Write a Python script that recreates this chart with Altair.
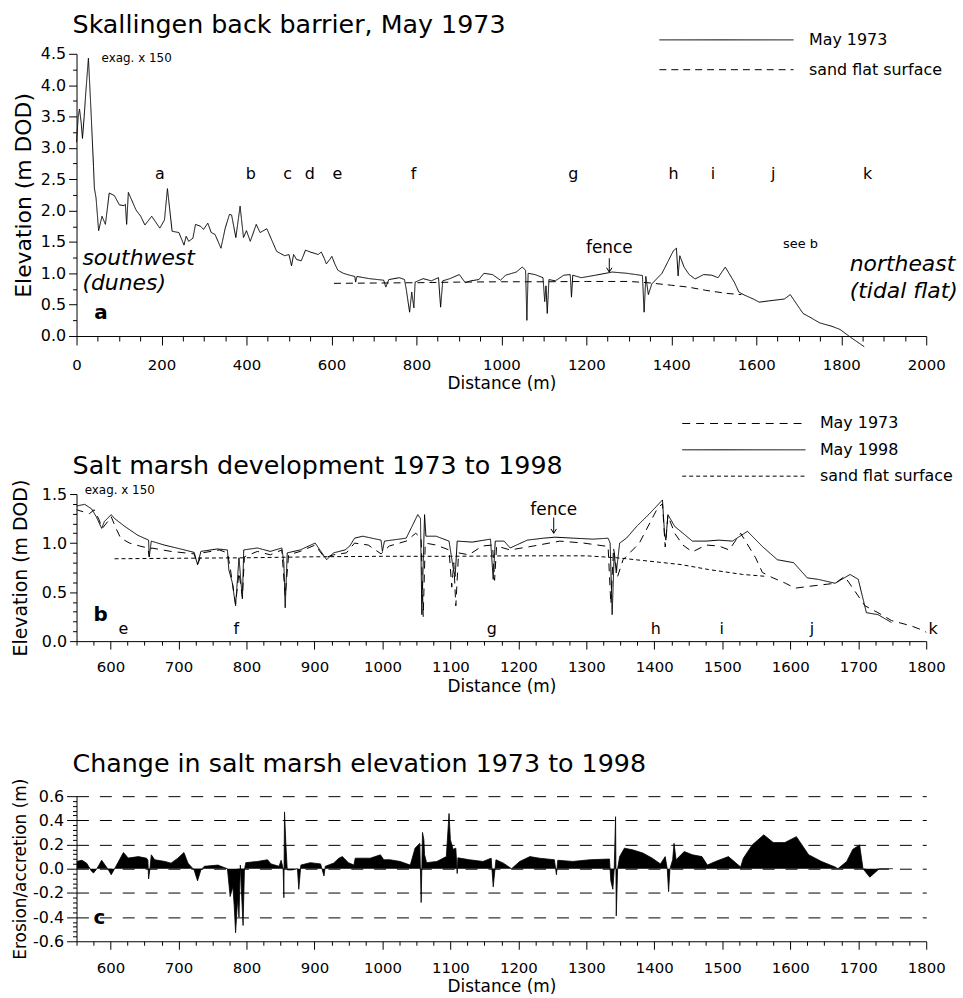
import altair as alt
import pandas as pd

F = "DejaVu Sans"

# ---------------- data ----------------
# May 1973 profile (distance m, elevation m DOD)
dist_1973 = [0, 4, 7, 11, 14, 18, 22, 28, 34, 40, 42, 46, 52, 60, 68, 77, 89, 101, 112, 115,
             118, 122, 140, 151, 161, 177, 196, 207, 214, 225, 241, 253, 258, 264, 274, 280, 292, 299, 309, 317,
             326, 340, 350, 360, 365, 375, 385, 393, 400, 409, 423, 432, 448, 471, 490, 500, 506, 511, 518, 529,
             539, 550, 569, 576, 583, 588, 596, 601, 608, 615, 628, 643, 655, 657, 660, 689, 723, 728, 735, 760,
             772, 776, 784, 789, 794, 797, 816, 835, 852, 857, 862, 879, 901, 915, 928, 947, 959, 979, 998, 1010,
             1035, 1049, 1057, 1060, 1063, 1079, 1098, 1102, 1105, 1108, 1112, 1127, 1147, 1162, 1165, 1168, 1188, 1222, 1261, 1296,
             1332, 1336, 1340, 1346, 1354, 1378, 1405, 1412, 1416, 1420, 1430, 1442, 1456, 1476, 1495, 1510, 1520, 1527, 1549, 1559,
             1573, 1593, 1607, 1629, 1666, 1680, 1700, 1710, 1729, 1749, 1778, 1797, 1822, 1854]
elev_1973 = [3.09, 3.5, 3.62, 3.4, 3.15, 3.5, 3.9, 4.43, 3.6, 2.7, 2.36, 2.2, 1.68, 1.91, 1.78, 2.28, 2.24, 2.09, 2.08, 2.1,
             1.78, 2.29, 2.01, 1.91, 1.77, 1.91, 1.72, 1.85, 2.35, 1.67, 1.65, 1.45, 1.59, 1.51, 1.56, 1.78, 1.75, 1.70, 1.80, 1.65,
             1.62, 1.40, 1.72, 1.94, 1.93, 1.57, 2.07, 1.57, 1.68, 1.51, 1.78, 1.65, 1.71, 1.35, 1.28, 1.30, 1.12, 1.30, 1.22, 1.20,
             1.37, 1.34, 1.30, 1.34, 1.24, 1.15, 1.22, 1.27, 1.15, 1.05, 1.00, 0.97, 0.95, 0.86, 0.95, 0.915, 0.89, 0.78, 0.90, 0.93,
             0.90, 0.75, 0.38, 0.70, 0.45, 0.86, 0.915, 0.88, 0.93, 0.46, 0.88, 0.915, 0.98, 0.85, 0.88, 0.90, 1.00, 0.98, 0.89, 0.97,
             1.02, 1.10, 1.05, 0.25, 1.00, 0.98, 0.93, 0.55, 0.80, 0.36, 0.90, 0.88, 0.97, 0.98, 0.62, 0.97, 0.93, 0.97, 1.02, 1.00,
             0.965, 0.38, 0.95, 0.66, 0.83, 1.00, 1.36, 1.40, 0.96, 1.28, 1.10, 0.98, 0.91, 0.98, 0.97, 0.93, 1.03, 1.10, 0.85, 0.70,
             0.65, 0.59, 0.54, 0.56, 0.59, 0.66, 0.46, 0.36, 0.29, 0.21, 0.155, 0.105, -0.02, -0.17]

# May 1998 profile
dist_1998 = [550, 562, 572, 579, 587, 591, 601, 606, 621, 640, 656, 657, 660, 679, 703, 723, 728, 733, 757, 772,
             774, 779, 784, 789, 794, 796, 816, 835, 852, 855, 857, 860, 879, 901, 913, 918, 928, 945, 952, 959,
             971, 998, 1000, 1003, 1035, 1052, 1056, 1058, 1062, 1064, 1079, 1098, 1104, 1107, 1110, 1132, 1159, 1163, 1166, 1179,
             1188, 1213, 1237, 1254, 1281, 1310, 1332, 1335, 1338, 1341, 1344, 1349, 1359, 1374, 1393, 1412, 1415, 1417, 1420, 1430,
             1456, 1476, 1495, 1515, 1537, 1559, 1581, 1605, 1625, 1641, 1666, 1688, 1700, 1712, 1729, 1749]
elev_1998 = [1.378, 1.395, 1.35, 1.27, 1.15, 1.22, 1.29, 1.25, 1.17, 1.08, 1.03, 0.86, 1.02, 0.98, 0.94, 0.905, 0.78, 0.915, 0.94, 0.93,
             0.73, 0.60, 0.36, 0.85, 0.43, 0.93, 0.95, 0.915, 0.95, 0.80, 0.34, 0.90, 0.93, 1.00, 0.88, 0.83, 0.90, 0.93, 0.97, 1.05,
             1.07, 1.03, 0.915, 1.02, 1.05, 1.29, 1.25, 0.27, 1.29, 1.07, 1.07, 1.02, 0.75, 0.66, 1.02, 1.01, 1.04, 0.63, 1.02, 1.02,
             0.95, 1.03, 1.05, 1.06, 1.05, 1.04, 1.05, 1.00, 0.27, 0.90, 0.695, 1.00, 1.05, 1.17, 1.30, 1.44, 1.10, 1.03, 1.29, 1.17,
             1.02, 1.02, 1.03, 1.02, 1.12, 0.965, 0.83, 0.80, 0.645, 0.63, 0.59, 0.68, 0.63, 0.29, 0.27, 0.19]

# sand flat surface
dist_sand = [606, 700, 800, 900, 1000, 1100, 1200, 1300, 1345, 1400, 1440, 1480, 1530, 1565]
elev_sand = [0.84, 0.845, 0.85, 0.86, 0.865, 0.865, 0.87, 0.87, 0.85, 0.81, 0.78, 0.73, 0.68, 0.66]

# change in elevation 1973-1998 (m)
dist_change = [550, 558, 565, 572, 575, 580, 587, 592, 597, 601, 605, 609, 619, 626, 641, 653, 655, 656, 658, 660,
               665, 680, 689, 699, 708, 714, 723, 728, 733, 738, 758, 767, 772, 776, 780, 782, 784, 787, 789, 791,
               793, 795, 797, 799, 816, 831, 836, 848, 851, 854, 855, 856, 858, 860, 867, 875, 877, 880, 894, 909,
               914, 916, 928, 936, 941, 950, 958, 960, 982, 997, 1002, 1011, 1026, 1041, 1048, 1055, 1057, 1059, 1061, 1062,
               1065, 1080, 1094, 1098, 1100, 1104, 1108, 1110, 1111, 1128, 1148, 1160, 1163, 1167, 1178, 1190, 1202, 1217, 1231, 1253,
               1256, 1258, 1280, 1305, 1334, 1336, 1339, 1341, 1343, 1344, 1346, 1349, 1356, 1368, 1383, 1397, 1409, 1416, 1419, 1421,
               1423, 1427, 1429, 1432, 1444, 1456, 1470, 1478, 1490, 1509, 1527, 1531, 1544, 1561, 1575, 1592, 1609, 1627, 1646, 1666,
               1670, 1683, 1692, 1702, 1707, 1717, 1731, 1751]
change = [0.06, 0.07, 0.045, -0.02, -0.035, 0.0, 0.07, 0.03, -0.01, -0.05, -0.01, 0.03, 0.134, 0.088, 0.10, 0.087, 0.07, -0.085, 0.0, 0.115,
          0.074, 0.06, 0.046, 0.087, 0.134, 0.046, -0.01, -0.10, -0.01, 0.02, 0.03, 0.01, 0.0, -0.23, -0.15, -0.31, -0.53, -0.25, -0.40, 0.03,
          -0.23, -0.47, -0.01, 0.05, 0.06, 0.074, 0.04, 0.02, 0.07, 0.0, -0.24, 0.47, 0.20, -0.01, -0.01, 0.0, -0.17, 0.03, 0.05, 0.04,
          -0.06, 0.02, 0.046, 0.087, 0.10, 0.05, 0.03, 0.087, 0.087, 0.115, 0.074, 0.074, 0.06, 0.03, 0.17, 0.21, -0.28, 0.30, 0.24, 0.115,
          0.05, 0.06, 0.10, 0.457, 0.24, 0.16, 0.17, -0.04, 0.09, 0.074, 0.06, 0.087, -0.15, 0.074, 0.046, 0.0, 0.06, 0.10, 0.087, 0.074,
          -0.05, 0.07, 0.06, 0.074, 0.08, -0.10, -0.17, 0.0, 0.43, -0.39, 0.0, 0.10, 0.17, 0.156, 0.13, 0.087, 0.04, 0.10, 0.0, -0.19,
          0.0, 0.074, 0.21, 0.074, 0.142, 0.115, 0.10, 0.03, 0.06, 0.10, 0.014, 0.087, 0.197, 0.28, 0.216, 0.216, 0.265, 0.115, 0.06, 0.014,
          0.0, 0.06, 0.16, 0.197, 0.0, -0.07, 0.0, 0.0]

# site letters
letters_a = ["a", "b", "c", "d", "e", "f", "g", "h", "i", "j", "k"]
letters_a_dist = [196, 410, 497, 549, 614, 793, 1169, 1405, 1498, 1640, 1862]
letters_b = ["e", "f", "g", "h", "i", "j", "k"]
letters_b_dist = [619, 785, 1161, 1402, 1499, 1632, 1810]

# ---------------- helpers ----------------
def ticks(lo, hi, step):
    n = int(round((hi - lo) / step))
    return [round(lo + i * step, 4) for i in range(n + 1)]


def axis(orient, values, major, fmt, title, big, small, lsize, tsize, lpad, tpad, **kw):
    kw.setdefault("grid", False)
    return alt.Axis(
        orient=orient, values=values, format=fmt, title=title,
        labelExpr=f"({major}) ? replace(datum.label, '\u2212', '-') : ''",
        tickSize={"condition": {"test": major, "value": big}, "value": small},
        labelFont=F, labelFontSize=lsize, labelColor="black", labelPadding=lpad,
        labelOverlap=False, labelFlush=False,
        titleFont=F, titleFontSize=tsize, titleFontWeight="normal", titleColor="black",
        titlePadding=tpad, domainColor="black", tickColor="black", domainWidth=1,
        tickWidth=1, **kw)


def legend(x, y, length, rowpad, loff):
    return alt.Legend(
        title=None, orient="none", legendX=x, legendY=y, symbolType="stroke",
        symbolSize=length * length, symbolStrokeWidth=1, symbolStrokeColor="black",
        clipHeight=20, rowPadding=rowpad, labelOffset=loff, labelFont=F,
        labelFontSize=16, labelColor="black", padding=0, symbolOffset=0)


def texts(df, X, Y, size, align="left", style="normal", weight="normal"):
    return alt.Chart(df).mark_text(
        font=F, fontSize=size, align=align, baseline="middle", fontStyle=style,
        fontWeight=weight, color="black").encode(x=X, y=Y, text="t:N")


def title(txt, offset, line_height=None):
    extra = {"lineHeight": line_height} if line_height else {}
    return alt.TitleParams(txt, anchor="start", frame="group", font=F, fontSize=25.5,
                           fontWeight="normal", color="black", dx=-4, offset=offset, **extra)

# ---------------- panel a ----------------
major_a_x = "datum.value % 200 === 0"
major_half = "abs(datum.value * 2 - round(datum.value * 2)) < 0.001"
Xa = alt.X("d:Q", scale=alt.Scale(domain=[0, 2000], nice=False, zero=False),
           axis=axis("bottom", ticks(0, 2000, 50), major_a_x, "d", "Distance (m)", 9, 5, 15, 17, 13, 3))
Ya = alt.Y("e:Q", scale=alt.Scale(domain=[0, 4.5], nice=False, zero=False),
           axis=axis("left", ticks(0, 4.5, 0.25), major_half, ".1f", "Elevation (m DOD)", 8, 4, 16, 22, 3, 5))

lines_a = pd.concat([
    pd.DataFrame({"d": dist_1973, "e": elev_1973, "s": "May 1973", "i": range(len(dist_1973))}),
    pd.DataFrame({"d": dist_sand, "e": elev_sand, "s": "sand flat surface", "i": range(len(dist_sand))}),
])
a_lines = alt.Chart(lines_a).mark_line(color="black", strokeWidth=1).encode(
    x=Xa, y=Ya, order="i:Q", detail="s:N",
    strokeDash=alt.StrokeDash("s:N", scale=alt.Scale(domain=["May 1973", "sand flat surface"],
                                                     range=[[1, 0], [7, 5]]),
                              legend=legend(586, -24, 135, 10, 15)))
a_letters = texts(pd.DataFrame({"d": letters_a_dist, "e": [2.59] * len(letters_a), "t": letters_a}),
                  Xa, Ya, 16, align="center")
a_small = texts(pd.DataFrame({"d": [59], "e": [4.43], "t": ["exag. x 150"]}), Xa, Ya, 12)
a_seeb = texts(pd.DataFrame({"d": [1663], "e": [1.47], "t": ["see b"]}), Xa, Ya, 13)
a_ital = texts(pd.DataFrame({"d": [14, 14, 1820, 1820], "e": [1.25, 0.84, 1.15, 0.72],
                             "t": ["southwest", "(dunes)", "northeast", "(tidal flat)"]}),
               Xa, Ya, 22, style="italic")
a_bold = texts(pd.DataFrame({"d": [42], "e": [0.36], "t": ["a"]}), Xa, Ya, 20, weight="bold")
a_fence = texts(pd.DataFrame({"d": [1254], "e": [1.41], "t": ["fence"]}), Xa, Ya, 17, align="center")
a_arrow = alt.Chart(pd.DataFrame({"d": [1254], "e": [1.24], "e2": [1.02]})).mark_rule(
    color="black", strokeWidth=1).encode(x=Xa, y=Ya, y2="e2:Q")
a_head = alt.Chart(pd.DataFrame({"d": [1254], "e": [1.02]})).mark_point(
    shape="M-1,-1.6L0,0L1,-1.6", filled=False, color="black", strokeWidth=1, size=30, opacity=1).encode(x=Xa, y=Ya)

panel_a = alt.layer(a_lines, a_letters, a_small, a_seeb, a_ital, a_bold, a_fence, a_arrow, a_head).properties(
    width=855, height=284, title=title("Skallingen back barrier, May 1973", -9))

# ---------------- panel b ----------------
major_100 = "datum.value % 100 === 0"
Xb = alt.X("d:Q", scale=alt.Scale(domain=[550, 1800], nice=False, zero=False),
           axis=axis("bottom", ticks(550, 1800, 25), major_100, "d", "Distance (m)", 8, 4, 15, 17, 11, 4))
Yb = alt.Y("e:Q", scale=alt.Scale(domain=[0, 1.5], nice=False, zero=False),
           axis=axis("left", ticks(0, 1.5, 0.1), major_half, ".1f", "Elevation (m DOD)", 7, 4, 16, 19, 3, 11))

lines_b = pd.concat([
    pd.DataFrame({"d": dist_1973, "e": elev_1973, "s": "May 1973", "i": range(len(dist_1973))}),
    pd.DataFrame({"d": dist_1998, "e": elev_1998, "s": "May 1998", "i": range(len(dist_1998))}),
    pd.DataFrame({"d": dist_sand, "e": elev_sand, "s": "sand flat surface", "i": range(len(dist_sand))}),
])
b_lines = alt.Chart(lines_b).mark_line(color="black", strokeWidth=1, clip=True).encode(
    x=Xb, y=Yb, order="i:Q", detail="s:N",
    strokeDash=alt.StrokeDash("s:N", scale=alt.Scale(domain=["May 1973", "May 1998", "sand flat surface"],
                                                     range=[[8, 6], [1, 0], [4, 3]]),
                              legend=legend(609, -81, 124, 6.5, 14)))
b_letters = texts(pd.DataFrame({"d": letters_b_dist, "e": [0.12] * len(letters_b), "t": letters_b}),
                  Xb, Yb, 16, align="center")
b_small = texts(pd.DataFrame({"d": [562], "e": [1.54], "t": ["exag. x 150"]}), Xb, Yb, 12)
b_bold = texts(pd.DataFrame({"d": [575], "e": [0.27], "t": ["b"]}), Xb, Yb, 20, weight="bold")
b_fence = texts(pd.DataFrame({"d": [1252], "e": [1.34], "t": ["fence"]}), Xb, Yb, 17, align="center")
b_arrow = alt.Chart(pd.DataFrame({"d": [1252], "e": [1.26], "e2": [1.10]})).mark_rule(
    color="black", strokeWidth=1).encode(x=Xb, y=Yb, y2="e2:Q")
b_head = alt.Chart(pd.DataFrame({"d": [1252], "e": [1.10]})).mark_point(
    shape="M-1,-1.6L0,0L1,-1.6", filled=False, color="black", strokeWidth=1, size=30, opacity=1).encode(x=Xb, y=Yb)

panel_b = alt.layer(b_lines, b_letters, b_small, b_bold, b_fence, b_arrow, b_head).properties(
    width=855, height=148, title=title("Salt marsh development 1973 to 1998", -66))

# ---------------- panel c ----------------
major_c = "abs(datum.value * 5 - round(datum.value * 5)) < 0.001"
Xc = alt.X("d:Q", scale=alt.Scale(domain=[550, 1800], nice=False, zero=False),
           axis=axis("bottom", ticks(550, 1800, 25), major_100, "d", "Distance (m)", 8, 4, 15, 17, 11, 4))
Yc = alt.Y("e:Q", scale=alt.Scale(domain=[-0.6, 0.6], nice=False, zero=False),
           axis=axis("left", ticks(-0.6, 0.6, 0.04), major_c, ".1f", "Erosion/accretion  (m)", 10, 4, 16, 17, 3, 3,
                     grid=True, gridColor="black", gridWidth=1, gridDash=[12, 11],
                     gridOpacity={"condition": {"test": major_c + " && datum.value > -0.5", "value": 1}, "value": 0}))
chg = pd.DataFrame({"d": dist_change, "e": change})
c_area = alt.Chart(chg).mark_area(color="black", opacity=1, clip=True).encode(x=Xc, y=Yc)
c_line = alt.Chart(chg).mark_line(color="black", strokeWidth=0.8, clip=True).encode(x=Xc, y=Yc)
c_bold = texts(pd.DataFrame({"d": [575], "e": [-0.41], "t": ["c"]}), Xc, Yc, 20, weight="bold")

panel_c = alt.layer(c_area, c_line, c_bold).properties(
    width=855, height=146,
    title=title([" ", "Change in salt marsh elevation 1973 to 1998"], -2, line_height=35))

chart = alt.vconcat(panel_a, panel_b, panel_c, spacing=22).resolve_scale(
    strokeDash="independent").resolve_legend(strokeDash="independent").configure_view(
    stroke=None).properties(padding={"left": 11, "top": 10, "right": 5, "bottom": 5})

chart.save("out.html", embed_options={"renderer": "svg", "actions": False})
